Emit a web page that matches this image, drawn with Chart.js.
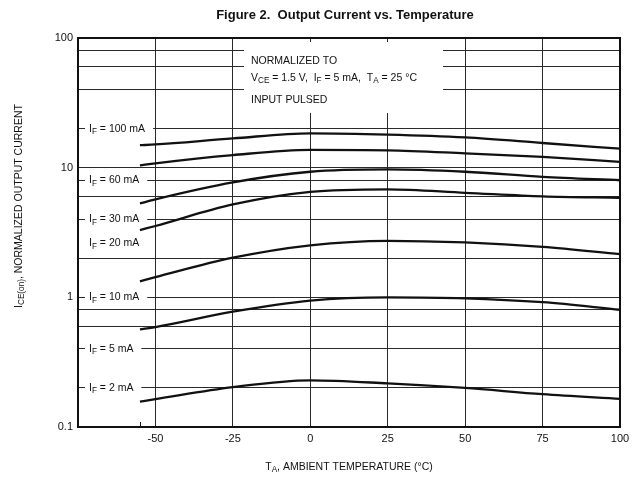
<!DOCTYPE html>
<html>
<head>
<meta charset="utf-8">
<script src="https://cdn.jsdelivr.net/npm/chart.js@4.4.1/dist/chart.umd.min.js"></script>
<style>
  html, body { margin: 0; padding: 0; background: #fff; }
  #wrap { width: 635px; height: 478px; position: relative; }
</style>
</head>
<body>
<div id="wrap"><canvas id="chart"></canvas></div>
<script>
const temps = [-55, -50, -25, 0, 25, 50, 75, 100];

// normalized I_CE(on) per forward current
const if100 = [14.9, 15.1, 16.8, 18.4, 18.0, 17.1, 15.5, 14.0];
const if60 = [10.4, 10.8, 12.5, 13.7, 13.6, 12.9, 12.1, 11.1];
const if30 = [5.3, 5.7, 7.7, 9.3, 9.7, 9.3, 8.5, 8.0];
const if20 = [3.3, 3.55, 5.2, 6.5, 6.8, 6.4, 6.0, 5.85];
const if10 = [1.33, 1.43, 2.02, 2.52, 2.73, 2.65, 2.45, 2.15];
const if5 = [0.567, 0.59, 0.775, 0.944, 1.0, 0.983, 0.917, 0.802];
const if2 = [0.157, 0.164, 0.203, 0.229, 0.217, 0.2, 0.179, 0.165];

// curve labels and the level (y value) they sit on
const curveNames = ['100 mA', '60 mA', '30 mA', '20 mA', '10 mA', '5 mA', '2 mA'];
const labelLevels = [20, 8, 4, 2.6, 1, 0.4, 0.2];

// axis ticks
const xTicks = [-75, -50, -25, 0, 25, 50, 75, 100];
const yGrid = [0.1, 0.2, 0.4, 0.6, 0.8, 1, 2, 4, 6, 8, 10, 20, 40, 60, 80, 100];
const yLabeled = [0.1, 1, 10, 100];

const FONT = '"Liberation Sans", Arial, Helvetica, sans-serif';

function series(vals) {
    return temps.map((t, i) => ({ x: t, y: vals[i] }));
}

// draw text made of pieces, some of them subscript; returns width
function richText(ctx, parts, x, y, size, align, draw = true) {
    const widths = parts.map(p => {
        ctx.font = (p[1] ? size * 0.78 : size) + 'px ' + FONT;
        return ctx.measureText(p[0]).width;
    });
    const total = widths.reduce((a, b) => a + b, 0);
    if (!draw) return total;
    let cx = align === 'center' ? x - total / 2 : x;
    ctx.textBaseline = 'middle';
    ctx.textAlign = 'left';
    parts.forEach((p, i) => {
        ctx.font = (p[1] ? size * 0.78 : size) + 'px ' + FONT;
        ctx.fillText(p[0], cx, p[1] ? y + size * 0.3 : y);
        cx += widths[i];
    });
    return total;
}

const annotations = {
    id: 'annotations',
    beforeDatasetsDraw(chart) {
        const { ctx, chartArea: a, scales } = chart;
        const ys = scales.y;
        ctx.save();
        // text box over the upper grid
        ctx.fillStyle = '#fff';
        ctx.fillRect(a.left + 166, a.top + 4, 199, 71);
        ctx.fillStyle = '#111';
        const bx = a.left + 173;
        richText(ctx, [['NORMALIZED TO', 0]], bx, a.top + 23, 10.5, 'left');
        richText(ctx, [['V', 0], ['CE', 1], [' = 1.5 V,  I', 0], ['F', 1], [' = 5 mA,  T', 0], ['A', 1], [' = 25 °C', 0]], bx, a.top + 40, 10.5, 'left');
        richText(ctx, [['INPUT PULSED', 0]], bx, a.top + 62, 10.5, 'left');
        // curve labels sitting on grid lines
        curveNames.forEach((name, i) => {
            const py = ys.getPixelForValue(labelLevels[i]);
            const parts = [['I', 0], ['F', 1], [' = ' + name, 0]];
            const w = richText(ctx, parts, 0, 0, 10.5, 'left', false);
            ctx.fillStyle = '#fff';
            ctx.fillRect(a.left + 7, py - 6, w + 12, 12);
            ctx.fillStyle = '#111';
            richText(ctx, parts, a.left + 11, py, 10.5, 'left');
        });
        ctx.restore();
    },
    afterDraw(chart) {
        const { ctx, chartArea: a, scales } = chart;
        ctx.save();
        // frame
        ctx.strokeStyle = '#111';
        ctx.lineWidth = 2;
        ctx.strokeRect(a.left, a.top, a.right - a.left, a.bottom - a.top);
        // small mark where the curves start (-55 °C)
        const sx = Math.round(scales.x.getPixelForValue(temps[0])) + 0.5;
        ctx.lineWidth = 1;
        ctx.beginPath();
        ctx.moveTo(sx, a.bottom);
        ctx.lineTo(sx, a.bottom - 5);
        ctx.stroke();
        // title
        ctx.fillStyle = '#111';
        ctx.font = 'bold 13px ' + FONT;
        ctx.textAlign = 'center';
        ctx.textBaseline = 'middle';
        ctx.fillText('Figure 2.  Output Current vs. Temperature', 345, 15);
        // x axis title
        richText(ctx, [['T', 0], ['A', 1], [', AMBIENT TEMPERATURE (°C)', 0]], (a.left + a.right) / 2, 467, 10.5, 'center');
        // y axis title
        ctx.translate(19, 206);
        ctx.rotate(-Math.PI / 2);
        richText(ctx, [['I', 0], ['CE(on)', 1], [', NORMALIZED OUTPUT CURRENT', 0]], 0, 0, 10.5, 'center');
        ctx.restore();
    }
};

const lineStyle = {
    borderColor: '#111',
    borderWidth: 2.3,
    pointRadius: 0,
    fill: false,
    cubicInterpolationMode: 'monotone'
};

new Chart(document.getElementById('chart'), {
    type: 'line',
    data: {
        datasets: [
            { label: 'IF = 100 mA', data: series(if100), ...lineStyle },
            { label: 'IF = 60 mA', data: series(if60), ...lineStyle },
            { label: 'IF = 30 mA', data: series(if30), ...lineStyle },
            { label: 'IF = 20 mA', data: series(if20), ...lineStyle },
            { label: 'IF = 10 mA', data: series(if10), ...lineStyle },
            { label: 'IF = 5 mA', data: series(if5), ...lineStyle },
            { label: 'IF = 2 mA', data: series(if2), ...lineStyle }
        ]
    },
    options: {
        responsive: true,
        maintainAspectRatio: false,
        animation: false,
        layout: { padding: { top: 38, right: 15, left: 0, bottom: 0 } },
        plugins: {
            legend: { display: false },
            tooltip: { enabled: false }
        },
        scales: {
            x: {
                type: 'linear',
                min: -75,
                max: 100,
                afterBuildTicks: (s) => { s.ticks = xTicks.map(v => ({ value: v })); },
                afterFit: (s) => { s.height = 51; },
                grid: { color: '#2a2a2a', lineWidth: 1, drawTicks: false },
                border: { display: false },
                ticks: {
                    padding: 5,
                    color: '#111',
                    font: { family: FONT, size: 11 },
                    maxRotation: 0,
                    callback: (v) => v === -75 ? '' : String(v)
                }
            },
            y: {
                type: 'logarithmic',
                min: 0.1,
                max: 100,
                afterBuildTicks: (s) => { s.ticks = yGrid.map(v => ({ value: v })); },
                afterFit: (s) => { s.width = 78; },
                grid: { color: '#2a2a2a', lineWidth: 1, drawTicks: false },
                border: { display: false },
                ticks: {
                    padding: 5,
                    color: '#111',
                    font: { family: FONT, size: 11 },
                    autoSkip: false,
                    callback: (v) => yLabeled.includes(v) ? String(v) : ''
                }
            }
        }
    },
    plugins: [annotations]
});
</script>
</body>
</html>
